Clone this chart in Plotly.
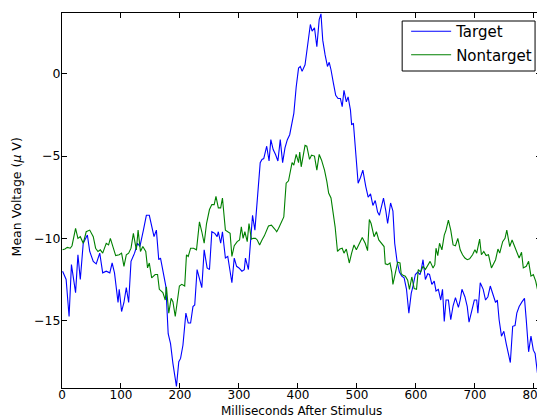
import plotly.graph_objects as go

target_ms = [1,7,12,16,23,27,31,36,43,47,53,58,64,69,75,81,85,89,95,97,101,105,109,113,117,123,128,132,138,143,148,152,156,160,164,167,171,176,180,184,188,192,194,198,201,205,210,214,218,222,225,229,233,237,241,246,250,254,259,263,265,269,272,277,281,284,288,292,296,300,305,309,311,316,320,323,327,331,336,339,342,347,351,354,358,362,366,370,374,378,382,386,390,393,397,401,404,407,412,417,421,424,428,432,436,439,442,446,450,453,456,460,464,468,472,475,478,482,485,489,491,494,498,502,506,510,515,519,523,527,531,535,538,541,545,549,552,557,561,564,568,572,576,580,584,588,592,595,599,603,607,609,612,616,620,623,627,631,634,638,642,645,648,651,655,659,663,667,672,675,678,683,687,690,695,699,703,705,709,714,718,722,726,730,735,738,741,745,749,753,756,760,764,768,771,775,780,784,787,791,795,799,802,806,812]
target_uv = [-12.0,-12.5,-14.75,-11.6,-13.3,-11.0,-12.5,-10.3,-9.8,-10.8,-11.4,-11.55,-10.9,-12.1,-12.0,-12.1,-11.5,-12.1,-13.9,-13.1,-14.45,-13.9,-13.0,-13.9,-11.4,-10.9,-10.3,-10.5,-9.5,-8.6,-8.6,-9.2,-9.9,-9.5,-11.3,-11.2,-11.9,-12.9,-15.8,-16.4,-17.6,-18.4,-19.0,-17.5,-17.3,-16.5,-14.55,-15.15,-15.15,-14.15,-14.05,-11.9,-12.4,-13.0,-10.7,-11.8,-11.9,-9.6,-9.7,-9.9,-9.6,-10.3,-9.6,-11.2,-11.1,-11.7,-12.7,-11.2,-11.7,-11.8,-12.0,-11.9,-11.2,-11.9,-10.3,-8.6,-9.5,-7.6,-5.4,-5.2,-5.15,-4.4,-5.3,-4.0,-4.6,-4.9,-5.3,-4.0,-5.4,-4.5,-4.0,-3.7,-3.0,-2.4,-0.8,0.35,0.45,0.15,0.55,2.05,3.0,2.6,2.8,1.65,3.3,3.65,2.05,1.15,0.45,0.7,0.25,-0.55,-1.3,-1.5,-1.5,-2.0,-1.0,-1.7,-1.4,-2.2,-3.1,-3.0,-4.8,-6.65,-6.3,-5.85,-6.85,-7.5,-7.3,-8.0,-7.7,-8.4,-8.6,-8.2,-7.55,-8.35,-9.1,-7.85,-8.35,-10.3,-11.4,-12.05,-12.3,-12.4,-13.1,-14.55,-13.35,-12.9,-12.2,-12.05,-12.2,-11.9,-11.3,-12.5,-12.15,-12.2,-12.8,-12.6,-13.2,-13.1,-13.75,-13.1,-15.05,-13.75,-13.75,-14.95,-14.1,-13.6,-14.2,-13.75,-13.1,-13.55,-14.15,-15.1,-14.35,-13.75,-13.75,-14.55,-12.7,-13.1,-13.75,-13.55,-12.9,-13.35,-13.9,-13.75,-14.95,-15.95,-15.65,-16.4,-16.95,-17.55,-15.35,-15.3,-14.55,-14.15,-13.85,-13.65,-14.95,-16.9,-15.95,-16.8,-17.0,-18.2,-17.6]

nontarget_ms = [1,5,9,14,17,23,27,31,36,41,47,53,57,61,65,69,75,79,82,87,91,97,101,105,109,113,117,121,126,129,133,137,142,145,148,152,158,162,165,171,175,177,181,185,188,192,196,199,203,208,211,214,218,223,228,233,237,241,245,250,254,258,261,265,269,272,277,281,285,288,292,297,301,304,307,310,314,317,321,324,328,331,335,339,343,350,355,361,364,367,371,376,378,380,384,388,390,393,397,401,403,405.5,408,412,415,419.6,423,428,432,436,440,445,449,452,456,459,463,467,471,475,478,482,487,491,495,499,504,509,514,518,521,524,529,533,537,541,546,548,552,556,559,561,565,569,573,575,578,582,586,589,593,597,601,604,608,612,616,620,624,629,632,634,637,640,644,648,651,655,659,663,667,671,675,679,683,687,691,696,700,703,705,708,711,715,719,723,728,731,735,739,742,747,751,754,759,763,767,771,775,779,782,787,791,795,799,803,806,812]
nontarget_uv = [-10.7,-10.65,-10.55,-10.6,-10.45,-9.4,-10.0,-9.9,-10.3,-9.6,-9.5,-9.9,-10.6,-10.8,-10.7,-10.9,-10.3,-10.4,-10.0,-10.6,-11.05,-11.0,-10.9,-11.7,-11.0,-10.9,-10.6,-9.7,-10.7,-9.5,-10.8,-10.5,-10.8,-11.8,-11.5,-12.4,-12.2,-12.2,-13.1,-13.3,-13.75,-12.95,-14.55,-13.65,-13.85,-14.75,-13.75,-12.9,-12.8,-12.9,-11.0,-11.1,-10.6,-10.6,-10.7,-9.0,-9.6,-10.3,-9.1,-8.25,-7.95,-7.95,-7.45,-8.15,-8.15,-7.55,-9.5,-9.6,-9.7,-11.1,-10.45,-10.2,-10.1,-9.3,-10.0,-9.6,-10.2,-9.1,-10.05,-10.0,-10.0,-10.1,-10.4,-10.1,-9.85,-9.25,-9.2,-9.45,-9.6,-9.4,-9.1,-8.7,-7.65,-6.65,-6.5,-5.75,-5.4,-5.55,-4.9,-5.4,-4.75,-5.65,-5.05,-4.35,-4.4,-5.2,-4.95,-5.0,-5.85,-4.9,-5.25,-5.85,-6.55,-7.25,-7.55,-8.25,-9.3,-10.8,-10.65,-10.6,-10.9,-10.65,-11.5,-10.9,-10.4,-10.7,-10.3,-9.95,-10.3,-10.75,-8.85,-9.1,-9.9,-9.6,-10.1,-10.3,-10.5,-11.55,-11.6,-11.5,-12.05,-12.8,-12.05,-11.45,-11.5,-12.15,-12.25,-12.3,-12.55,-13.1,-12.35,-13.05,-13.1,-11.9,-12.05,-11.7,-11.9,-11.6,-11.4,-11.8,-11.6,-10.6,-11.05,-10.3,-10.7,-9.8,-9.5,-8.9,-9.5,-10.4,-10.45,-10.0,-10.7,-11.0,-11.2,-11.3,-11.25,-11.0,-10.7,-10.9,-10.6,-10.05,-11.0,-10.8,-11.05,-11.0,-11.8,-11.6,-11.3,-10.65,-10.9,-10.2,-10.0,-9.5,-10.5,-10.1,-10.5,-10.8,-11.2,-10.85,-11.8,-11.7,-11.4,-12.3,-12.2,-12.6,-13.1,-12.8]

x_ticks = [0, 100, 200, 300, 400, 500, 600, 700, 800]
y_ticks = [-15, -10, -5, 0]

FONT = "DejaVu Sans"

# page body has an 8px margin; the figure is sized so the plot area sits at page (62..545, 13..388)
PL, PR, PT, PB = 62, 545, 13, 388
def px(xp):
    return (xp - PL) / (PR - PL)
def py(yp):
    return (PB - yp) / (PB - PT)

fig = go.Figure()
fig.add_trace(go.Scatter(x=target_ms, y=target_uv, mode="lines", name="Target",
                         legendgroup="t", line=dict(color="#0000ff", width=1.1)))
fig.add_trace(go.Scatter(x=nontarget_ms, y=nontarget_uv, mode="lines", name="Nontarget",
                         legendgroup="n", line=dict(color="#008000", width=1.1)))

axis_common = dict(showgrid=False, zeroline=False, showline=True, linecolor="black",
                   linewidth=1, mirror="ticks", ticks="inside", ticklen=5, tickwidth=1,
                   tickcolor="black", ticklabeloverflow="allow")

fig.update_layout(
    width=537, height=411,
    margin=dict(l=54, r=0, t=5, b=31),
    paper_bgcolor="white", plot_bgcolor="white",
    font=dict(family=FONT, size=12, color="black"),
    xaxis=dict(range=[0, 812], tickvals=x_ticks, ticklabelstandoff=-4,
               tickfont=dict(family=FONT, size=12, color="black"), **axis_common),
    yaxis=dict(range=[-19.1, 3.7], tickvals=y_ticks, ticklabelstandoff=-2,
               tickfont=dict(family=FONT, size=12.5, color="black"), **axis_common),
    legend=dict(x=px(409), xanchor="left", y=py(15), yanchor="top",
                bordercolor="rgba(0,0,0,0)", borderwidth=0, bgcolor="rgba(0,0,0,0)",
                font=dict(family=FONT, size=15), tracegroupgap=1, itemwidth=40),
    showlegend=True,
    shapes=[dict(type="rect", xref="paper", yref="paper",
                 x0=px(405), x1=px(539), y0=py(71), y1=py(21),
                 line=dict(color="black", width=1), fillcolor="white", layer="below")],
    annotations=[
        dict(text="Milliseconds After Stimulus", xref="paper", yref="paper",
             x=px(304), y=py(419), xanchor="center", yanchor="bottom", showarrow=False,
             borderpad=0, font=dict(family=FONT, size=12)),
        dict(text="Mean Voltage (<i>μ</i> V)", xref="paper", yref="paper",
             x=px(16), y=py(197), xanchor="center", yanchor="middle", showarrow=False,
             textangle=-90, font=dict(family=FONT, size=12.5)),
    ],
)

fig.write_html("out.html")
